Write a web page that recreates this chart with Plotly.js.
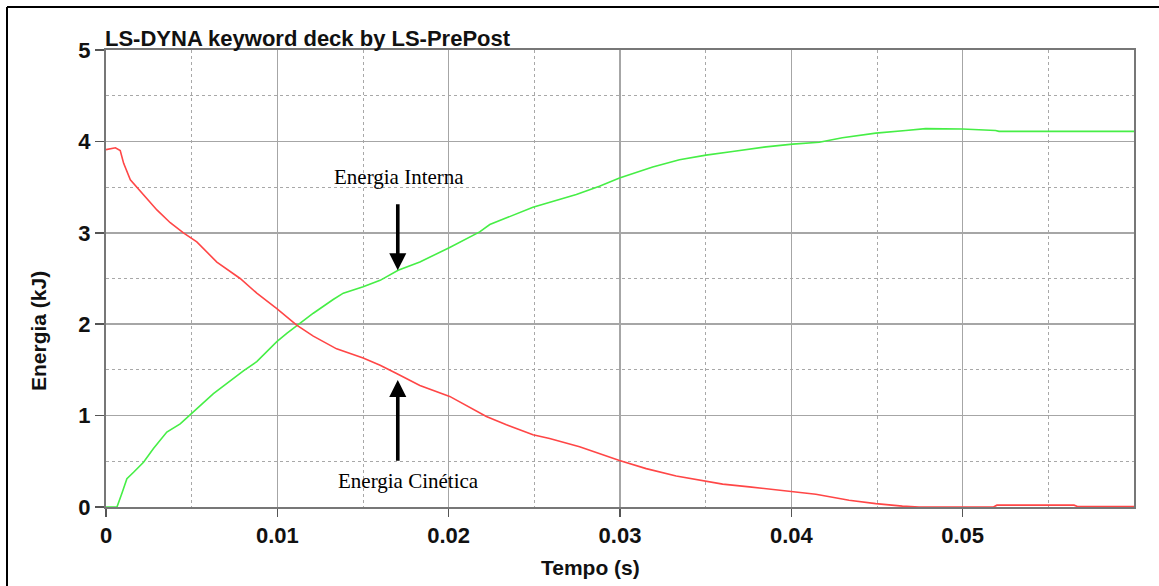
<!DOCTYPE html>
<html>
<head>
<meta charset="utf-8">
<script src="https://cdn.plot.ly/plotly-3.0.1.min.js"></script>
<style>
html,body{margin:0;padding:0;background:#fff;}
#chart{width:1159px;height:586px;}
</style>
</head>
<body>
<div id="chart"></div>
<script>
// Energia Cinética (red)
var tKin = [0, 0.00055, 0.00083, 0.00103, 0.00142, 0.00219, 0.00297, 0.00375, 0.00452, 0.0053, 0.00647, 0.00783, 0.0088, 0.00997, 0.01113, 0.0121, 0.01346, 0.01501, 0.016, 0.01696, 0.01832, 0.02006, 0.0222, 0.02337, 0.02492, 0.02589, 0.02667, 0.02764, 0.02997, 0.03153, 0.03328, 0.03502, 0.03599, 0.03755, 0.03988, 0.04143, 0.04337, 0.04493, 0.04648, 0.04745, 0.0518, 0.0520, 0.0565, 0.0567, 0.06];
var eKin = [3.91, 3.93, 3.90, 3.76, 3.58, 3.42, 3.25, 3.11, 3.00, 2.90, 2.68, 2.50, 2.34, 2.17, 1.99, 1.87, 1.73, 1.63, 1.55, 1.46, 1.33, 1.21, 0.99, 0.90, 0.79, 0.75, 0.71, 0.66, 0.51, 0.42, 0.34, 0.285, 0.25, 0.22, 0.175, 0.14, 0.073, 0.037, 0.01, 0.0, 0.0, 0.02, 0.02, 0.005, 0.005];
// Energia Interna (green)
var tInt = [0, 0.00064, 0.00093, 0.00122, 0.00161, 0.00219, 0.00277, 0.00355, 0.00433, 0.00501, 0.0055, 0.00627, 0.00744, 0.00802, 0.0088, 0.00997, 0.01055, 0.01123, 0.0121, 0.01326, 0.01385, 0.01501, 0.016, 0.01705, 0.01832, 0.02006, 0.02181, 0.0224, 0.02356, 0.02492, 0.02745, 0.0288, 0.02997, 0.03191, 0.03347, 0.03502, 0.03657, 0.03852, 0.04007, 0.04163, 0.04298, 0.04493, 0.04668, 0.04784, 0.04998, 0.05192, 0.05212, 0.06];
var eInt = [0, 0, 0.15, 0.31, 0.38, 0.49, 0.64, 0.82, 0.91, 1.02, 1.11, 1.24, 1.41, 1.49, 1.59, 1.81, 1.90, 2.00, 2.12, 2.27, 2.34, 2.41, 2.48, 2.59, 2.68, 2.84, 3.01, 3.09, 3.18, 3.28, 3.42, 3.51, 3.60, 3.72, 3.80, 3.85, 3.89, 3.94, 3.97, 3.99, 4.04, 4.09, 4.12, 4.14, 4.135, 4.12, 4.11, 4.11];

var xTicks = [0, 0.01, 0.02, 0.03, 0.04, 0.05];
var xTickText = ["0", "0.01", "0.02", "0.03", "0.04", "0.05"];
var yTicks = [0, 1, 2, 3, 4, 5];
var yTickText = ["0", "1", "2", "3", "4", "5"];

var chartTitle = "LS-DYNA keyword deck by LS-PrePost";
var xTitle = "Tempo (s)";
var yTitle = "Energia (kJ)";
var labelInt = "Energia Interna";
var labelKin = "Energia Cinética";

var traces = [
  {x: tInt, y: eInt, type: 'scatter', mode: 'lines', line: {color: 'rgb(70,238,70)', width: 1.6}, hoverinfo: 'skip'},
  {x: tKin, y: eKin, type: 'scatter', mode: 'lines', line: {color: 'rgb(255,70,70)', width: 1.6}, hoverinfo: 'skip'}
];

var sans = 'Liberation Sans, Arial, sans-serif';
var serif = 'Liberation Serif, Times New Roman, serif';
var tickFont = {family: sans, size: 22, color: '#111', weight: 'bold'};
var L = 106, R = 1134, T = 50, B = 507;
function px2paperX(px) { return (px - L) / (R - L); }
function px2paperY(py) { return (B - py) / (B - T); }

var layout = {
  width: 1159, height: 586,
  margin: {l: L, r: 1159 - R, t: T, b: 586 - B, autoexpand: false},
  paper_bgcolor: '#fff', plot_bgcolor: '#fff',
  showlegend: false,
  font: {family: sans},
  title: {
    text: '<b>' + chartTitle + '</b>',
    font: {family: sans, size: 22, color: '#111'},
    xref: 'container', x: 105/1159, xanchor: 'left',
    yref: 'container', y: 1 - 38/586, yanchor: 'middle'
  },
  xaxis: {
    range: [0, 0.06], tickmode: 'array', tickvals: xTicks, ticktext: xTickText,
    tickfont: tickFont, ticks: 'outside', ticklen: 8, tickwidth: 1.5, tickcolor: '#555',
    showgrid: true, gridcolor: '#a6a6a6', gridwidth: 1.5,
    minor: {dtick: 0.005, tick0: 0, showgrid: true, gridcolor: '#a8a8a8', griddash: '3px,3px', gridwidth: 1},
    showline: true, linecolor: '#777', linewidth: 2, mirror: true, zeroline: false,
    automargin: false
  },
  yaxis: {
    range: [0, 5], tickmode: 'array', tickvals: yTicks, ticktext: yTickText,
    tickfont: tickFont, ticks: 'outside', ticklen: 9, tickwidth: 1.5, tickcolor: '#555',
    showgrid: true, gridcolor: '#a6a6a6', gridwidth: 1.5,
    minor: {dtick: 0.5, tick0: 0, showgrid: true, gridcolor: '#a8a8a8', griddash: '3px,3px', gridwidth: 1},
    showline: true, linecolor: '#777', linewidth: 2, mirror: true, zeroline: false,
    automargin: false
  },
  annotations: [
    {xref: 'paper', yref: 'paper', x: px2paperX(590), y: px2paperY(567), text: '<b>' + xTitle + '</b>',
     showarrow: false, xanchor: 'center', yanchor: 'middle', font: {family: sans, size: 21, color: '#111'}},
    {xref: 'paper', yref: 'paper', x: px2paperX(38), y: px2paperY(331), text: '<b>' + yTitle + '</b>', textangle: -90,
     showarrow: false, xanchor: 'center', yanchor: 'middle', font: {family: sans, size: 21, color: '#111'}},
    {x: 0.01712, y: 3.61, xref: 'x', yref: 'y', text: labelInt, showarrow: false,
     font: {family: serif, size: 21, color: '#000'}},
    {x: 0.01768, y: 0.28, xref: 'x', yref: 'y', text: labelKin, showarrow: false,
     font: {family: serif, size: 21, color: '#000'}},
    {x: 0.01703, y: 2.59, xref: 'x', yref: 'y', ax: 0.01703, ay: 3.33, axref: 'x', ayref: 'y',
     text: '', showarrow: true, arrowhead: 2, arrowsize: 0.95, arrowwidth: 3.6, arrowcolor: '#000'},
    {x: 0.01703, y: 1.39, xref: 'x', yref: 'y', ax: 0.01703, ay: 0.49, axref: 'x', ayref: 'y',
     text: '', showarrow: true, arrowhead: 2, arrowsize: 0.95, arrowwidth: 3.6, arrowcolor: '#000'}
  ],
  shapes: [
    {type: 'line', xref: 'paper', yref: 'paper', x0: px2paperX(7), x1: px2paperX(1160), y0: px2paperY(7), y1: px2paperY(7), line: {color: '#000', width: 2}},
    {type: 'line', xref: 'paper', yref: 'paper', x0: px2paperX(7), x1: px2paperX(7), y0: px2paperY(7), y1: px2paperY(590), line: {color: '#000', width: 2}}
  ]
};

Plotly.newPlot('chart', traces, layout, {staticPlot: true, displayModeBar: false});
</script>
</body>
</html>
